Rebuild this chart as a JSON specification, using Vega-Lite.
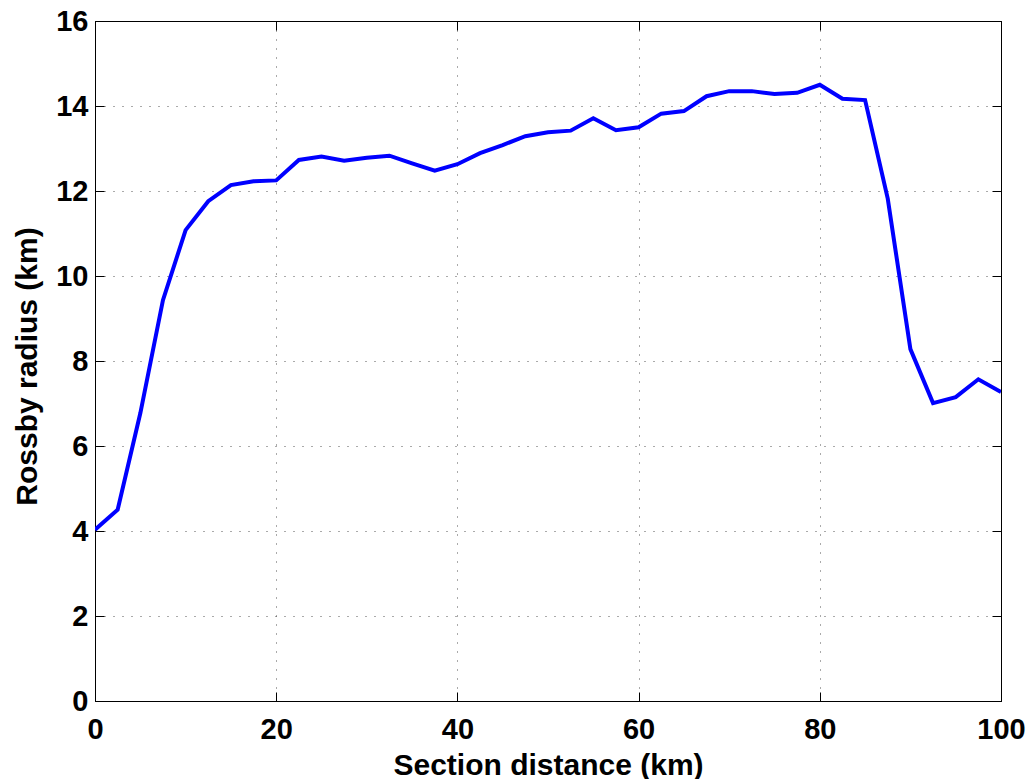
{
  "$schema": "https://vega.github.io/schema/vega-lite/v6.json",
  "width": 906,
  "height": 680,
  "autosize": {"type": "none"},
  "padding": {"left": 95, "top": 21, "right": 31, "bottom": 78},
  "background": "white",
  "config": {
    "view": {"stroke": "black", "strokeWidth": 1},
    "axis": {
      "labelFont": "Liberation Sans",
      "labelFontWeight": "bold",
      "labelFontSize": 29,
      "labelColor": "black",
      "labelFlush": false,
      "labelOverlap": false,
      "titleFont": "Liberation Sans",
      "titleFontWeight": "bold",
      "titleFontSize": 30,
      "titleColor": "black",
      "domainColor": "black",
      "domainWidth": 1,
      "tickColor": "black",
      "tickWidth": 1,
      "tickSize": -9,
      "gridColor": "#444444",
      "gridWidth": 1,
      "gridDash": [1, 8],
      "gridOpacity": 0.9
    }
  },
  "data": {
    "values": [
      {"distance": 0, "radius": 4.03},
      {"distance": 2.5, "radius": 4.5},
      {"distance": 5, "radius": 6.77},
      {"distance": 7.5, "radius": 9.43},
      {"distance": 10, "radius": 11.08},
      {"distance": 12.5, "radius": 11.76},
      {"distance": 15, "radius": 12.14},
      {"distance": 17.5, "radius": 12.23},
      {"distance": 20, "radius": 12.25},
      {"distance": 22.5, "radius": 12.73},
      {"distance": 25, "radius": 12.81},
      {"distance": 27.5, "radius": 12.71},
      {"distance": 30, "radius": 12.78},
      {"distance": 32.5, "radius": 12.83},
      {"distance": 35, "radius": 12.65},
      {"distance": 37.5, "radius": 12.48},
      {"distance": 40, "radius": 12.63},
      {"distance": 42.5, "radius": 12.89},
      {"distance": 45, "radius": 13.08},
      {"distance": 47.5, "radius": 13.29},
      {"distance": 50, "radius": 13.38},
      {"distance": 52.5, "radius": 13.42},
      {"distance": 55, "radius": 13.71},
      {"distance": 57.5, "radius": 13.43},
      {"distance": 60, "radius": 13.5},
      {"distance": 62.5, "radius": 13.82},
      {"distance": 65, "radius": 13.88},
      {"distance": 67.5, "radius": 14.23},
      {"distance": 70, "radius": 14.35},
      {"distance": 72.5, "radius": 14.35},
      {"distance": 75, "radius": 14.28},
      {"distance": 77.5, "radius": 14.31},
      {"distance": 80, "radius": 14.5},
      {"distance": 82.5, "radius": 14.17},
      {"distance": 85, "radius": 14.14},
      {"distance": 87.5, "radius": 11.82},
      {"distance": 90, "radius": 8.28},
      {"distance": 92.5, "radius": 7.01},
      {"distance": 95, "radius": 7.15},
      {"distance": 97.5, "radius": 7.57},
      {"distance": 100, "radius": 7.27}
    ]
  },
  "layer": [
    {
      "mark": {"type": "line", "color": "#0000ff", "strokeWidth": 4, "clip": true},
      "encoding": {
        "x": {
          "field": "distance",
          "type": "quantitative",
          "scale": {"domain": [0, 100], "nice": false, "zero": false},
          "axis": {
            "orient": "bottom",
            "values": [0, 20, 40, 60, 80, 100],
            "title": "Section distance (km)",
            "labelPadding": 23,
            "labelBaseline": "top",
            "titleBaseline": "alphabetic",
            "titleY": 73,
            "titleX": 453,
            "grid": true
          }
        },
        "y": {
          "field": "radius",
          "type": "quantitative",
          "scale": {"domain": [0, 16], "nice": false},
          "axis": {
            "orient": "left",
            "values": [0, 2, 4, 6, 8, 10, 12, 14, 16],
            "title": "Rossby radius (km)",
            "labelPadding": 16,
            "titleAngle": -90,
            "titleBaseline": "alphabetic",
            "titleX": -59,
            "titleY": 345,
            "grid": true
          }
        }
      }
    },
    {
      "mark": {"type": "line", "opacity": 0},
      "encoding": {
        "x": {
          "field": "distance",
          "type": "quantitative",
          "axis": {
            "orient": "top",
            "values": [0, 20, 40, 60, 80, 100],
            "labels": false,
            "title": null,
            "grid": false
          }
        },
        "y": {
          "field": "radius",
          "type": "quantitative",
          "axis": {
            "orient": "right",
            "values": [0, 2, 4, 6, 8, 10, 12, 14, 16],
            "labels": false,
            "title": null,
            "grid": false
          }
        }
      }
    }
  ],
  "resolve": {"axis": {"x": "independent", "y": "independent"}}
}
